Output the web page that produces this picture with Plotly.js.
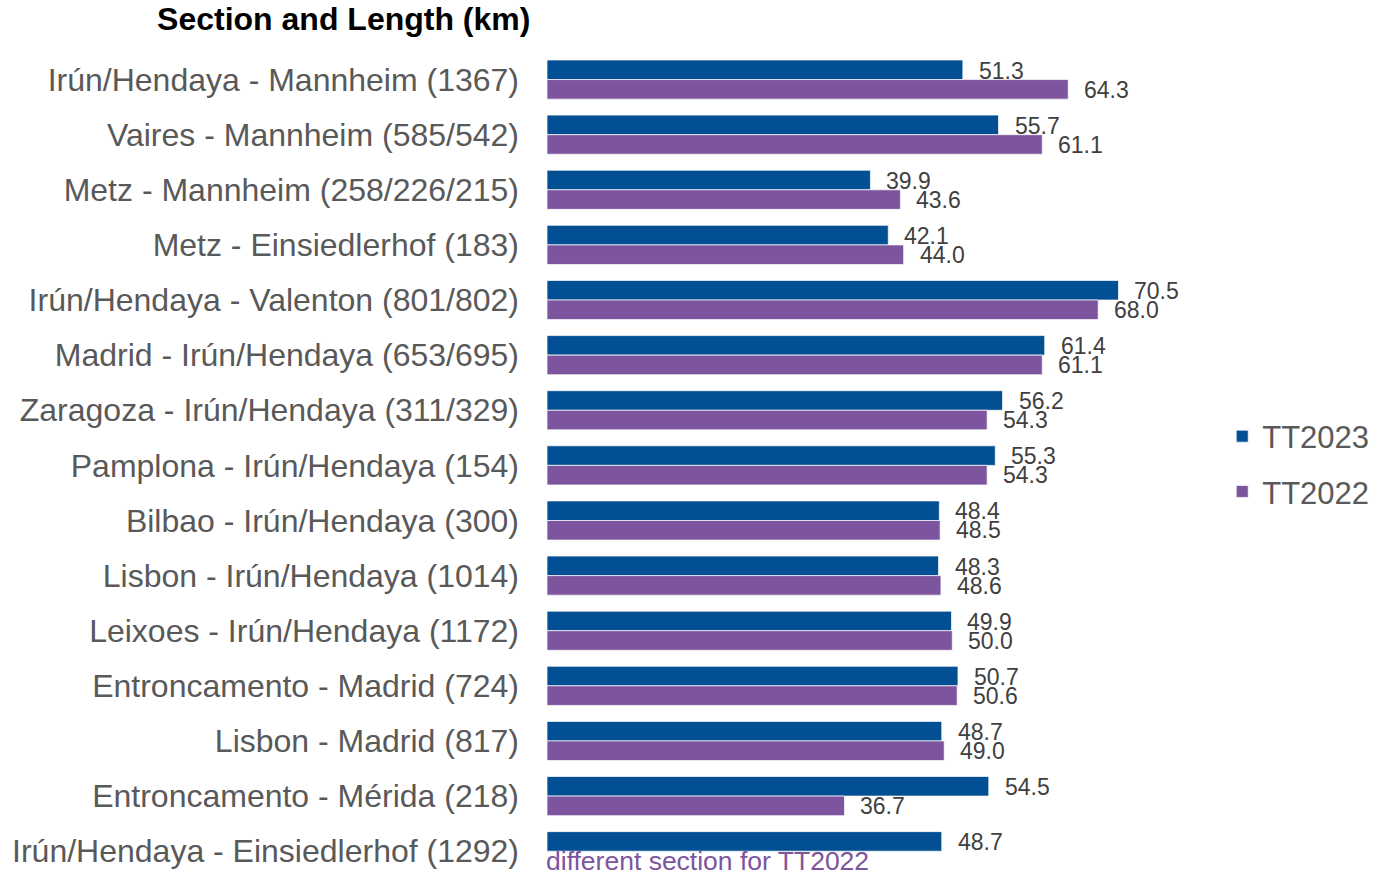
<!DOCTYPE html>
<html>
<head>
<meta charset="utf-8">
<script src="https://cdn.plot.ly/plotly-3.0.1.min.js"></script>
<style>html,body{margin:0;padding:0;background:#fff;}#chart{width:1375px;height:876px;}</style>
</head>
<body>
<div id="chart"></div>
<script>
const categories = [
  "Irún/Hendaya - Mannheim (1367)",
  "Vaires - Mannheim (585/542)",
  "Metz - Mannheim (258/226/215)",
  "Metz - Einsiedlerhof (183)",
  "Irún/Hendaya - Valenton (801/802)",
  "Madrid - Irún/Hendaya (653/695)",
  "Zaragoza - Irún/Hendaya (311/329)",
  "Pamplona - Irún/Hendaya (154)",
  "Bilbao - Irún/Hendaya (300)",
  "Lisbon - Irún/Hendaya (1014)",
  "Leixoes - Irún/Hendaya (1172)",
  "Entroncamento - Madrid (724)",
  "Lisbon - Madrid (817)",
  "Entroncamento - Mérida (218)",
  "Irún/Hendaya - Einsiedlerhof (1292)"
];
const tt2023 = [51.3, 55.7, 39.9, 42.1, 70.5, 61.4, 56.2, 55.3, 48.4, 48.3, 49.9, 50.7, 48.7, 54.5, 48.7];
const tt2022 = [64.3, 61.1, 43.6, 44.0, 68.0, 61.1, 54.3, 54.3, 48.5, 48.6, 50.0, 50.6, 49.0, 36.7, null];
const seriesNames = ["TT2023", "TT2022"];
const note = "different section for TT2022";

const blue = "#024f94";
const purple = "#7d559e";
const font = "Liberation Sans, Arial, sans-serif";

const traces = [
  {type: "bar", orientation: "h", name: seriesNames[0], y: categories, x: tt2023,
   legendgroup: "a", marker: {color: blue, line: {color: "rgba(255,255,255,0.7)", width: 1}}, hoverinfo: "x"},
  {type: "bar", orientation: "h", name: seriesNames[1], y: categories, x: tt2022,
   legendgroup: "b", marker: {color: purple, line: {color: "rgba(255,255,255,0.7)", width: 1}}, hoverinfo: "x"}
];

const annotations = [];
categories.forEach((c, i) => {
  if (tt2023[i] != null) annotations.push({x: tt2023[i], y: c, xref: "x", yref: "y", text: tt2023[i].toFixed(1),
    showarrow: false, xanchor: "left", yanchor: "middle", xshift: 14, yshift: 9, font: {family: font, size: 23, color: "#404040"}});
  if (tt2022[i] != null) annotations.push({x: tt2022[i], y: c, xref: "x", yref: "y", text: tt2022[i].toFixed(1),
    showarrow: false, xanchor: "left", yanchor: "middle", xshift: 14, yshift: -10, font: {family: font, size: 23, color: "#404040"}});
});
annotations.push({x: 0, y: categories[categories.length - 1], xref: "x", yref: "y", text: note, showarrow: false,
  xanchor: "left", yanchor: "middle", xshift: -3, yshift: -10, font: {family: font, size: 26.5, color: purple}});

const layout = {
  width: 1375, height: 876,
  margin: {l: 547, r: 139, t: 52, b: 0, pad: 0},
  paper_bgcolor: "#fff", plot_bgcolor: "#fff",
  barmode: "group", bargap: 0.29, bargroupgap: 0,
  title: {text: "<b>Section and Length (km)</b>", xref: "container", yref: "container",
    x: 0.25, xanchor: "center", y: 0.978, yanchor: "middle",
    font: {family: font, size: 32, color: "#000"}},
  xaxis: {range: [0, 85], showgrid: false, zeroline: false, showline: false, showticklabels: false, ticks: "", fixedrange: true},
  yaxis: {type: "category", range: [14.45, -0.5], showgrid: false, zeroline: false, showline: false, ticks: "",
    ticklabelstandoff: 27, tickfont: {family: font, size: 32, color: "#595959"}, fixedrange: true},
  showlegend: true,
  legend: {x: 0.98, xanchor: "left", y: 0.5, yanchor: "middle", traceorder: "grouped", tracegroupgap: 12,
    font: {family: font, size: 31, color: "#595959"}, bgcolor: "rgba(0,0,0,0)", itemwidth: 30},
  annotations: annotations
};

Plotly.newPlot("chart", traces, layout, {displayModeBar: false, staticPlot: true});
</script>
</body>
</html>
